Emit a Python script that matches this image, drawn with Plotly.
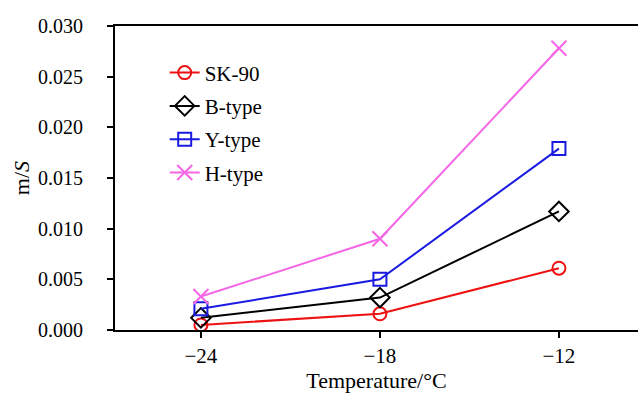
import plotly.graph_objects as go

temps = [-24, -18, -12]
sk90 = [0.0005, 0.0016, 0.0061]
btype = [0.0012, 0.0032, 0.0117]
ytype = [0.0021, 0.0050, 0.0179]
htype = [0.0033, 0.0090, 0.0278]

series = [
    ("SK-90", sk90, "#ee1111", "circle-open", 13),
    ("B-type", btype, "#000000", "diamond-open", 15),
    ("Y-type", ytype, "#1a1ae0", "square-open", 13),
    ("H-type", htype, "#f566e6", "x-thin-open", 15),
]

font = "Times New Roman, Liberation Serif, serif"

fig = go.Figure()
for name, vals, col, sym, sz in series:
    fig.add_trace(go.Scatter(
        x=temps, y=vals, name=name, mode="lines+markers", legendgroup=name,
        line=dict(color=col, width=2),
        marker=dict(symbol=sym, size=sz, color=col, line=dict(color=col, width=2)),
    ))

fig.update_layout(
    width=638, height=395,
    margin=dict(l=115, r=0, t=26, b=65),
    plot_bgcolor="white", paper_bgcolor="white",
    font=dict(family=font, size=20, color="black"),
    showlegend=True,
    legend=dict(x=0.095, y=0.913, xanchor="left", yanchor="top",
                bgcolor="rgba(0,0,0,0)", font=dict(size=21, family=font, color="black"),
                tracegroupgap=3),
    xaxis=dict(range=[-26.88, -9.35], tickvals=temps, ticktext=["\u221224", "\u221218", "\u221212"],
               showgrid=False, zeroline=False, showline=True, linecolor="black", linewidth=2,
               mirror=True, ticks="outside", ticklen=6, tickcolor="black", tickwidth=1.5,
               title=dict(text="Temperature/\u00b0C", standoff=4, font=dict(size=22, family=font)),
               tickfont=dict(size=21, family=font)),
    yaxis=dict(range=[0, 0.030], tickvals=[0, 0.005, 0.010, 0.015, 0.020, 0.025, 0.030],
               ticktext=["0.000", "0.005", "0.010", "0.015", "0.020", "0.025", "0.030"],
               showgrid=False, zeroline=False, showline=True, linecolor="black", linewidth=2,
               mirror=False, ticks="outside", ticklen=6, tickcolor="black", tickwidth=1.5,
               ticklabelstandoff=20,
               title=dict(text="m/<i>S</i>", standoff=2, font=dict(size=22, family=font)),
               tickfont=dict(size=20, family=font)),
)

fig.write_html("out.html")
